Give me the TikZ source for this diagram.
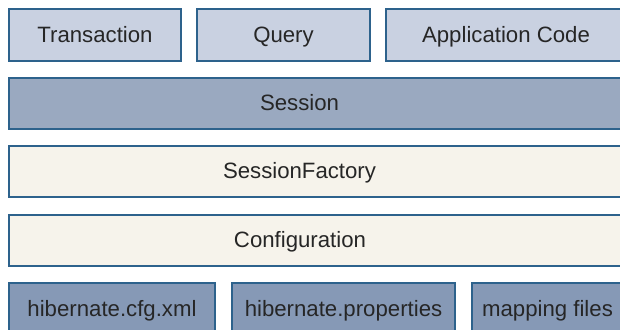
\documentclass[tikz,border=0pt]{standalone}
\usepackage{fontspec}
\setmainfont{Liberation Sans}
\usepackage{tikz}
\usetikzlibrary{
  positioning,
}
\definecolor{boxline}{RGB}{45, 98, 140}
\definecolor{apifill}{RGB}{201, 209, 225}
\definecolor{sessfill}{RGB}{154, 169, 192}
\definecolor{corefill}{RGB}{246, 243, 235}
\definecolor{cfgfill}{RGB}{134, 153, 182}
\tikzstyle{layer} = [
  draw=boxline,
  line width=0.75pt,
  rectangle,
  inner sep=0pt,
  minimum height=26pt,
  text height=7.95pt,
  text depth=0pt,
  font=\fontsize{11.1}{13}\selectfont,
  text=black!85,
]
\tikzstyle{lbl} = [
  inner sep=0pt,
  text height=7.95pt,
  text depth=0pt,
  font=\fontsize{11.1}{13}\selectfont,
  text=black!85,
]

\begin{document}
\begin{tikzpicture}[x=0.5pt, y=-0.5pt]

        \useasboundingbox (0,0) rectangle (620,329);
        \clip (0,0) rectangle (620,329);

        % top row
        \node [layer, fill=apifill, minimum width=86pt] (trans) at (95, 35) {Transaction};
        \node [layer, fill=apifill, minimum width=86.5pt] (query) at (283.5, 35) {Query};
        \node [layer, fill=apifill, minimum width=120pt] (appcode) at (506, 35) {Application Code};

        % full width layers
        \node [layer, fill=sessfill, minimum width=308.5pt, minimum height=25.5pt] (session) at (317.5, 103.5) {};
        \node [lbl] (sessionlbl) at (299.5, 103) {Session};

        \node [layer, fill=corefill, minimum width=308.5pt, minimum height=25.5pt] (factory) at (317.5, 171.5) {};
        \node [lbl] (factorylbl) at (299.5, 171) {SessionFactory};

        \node [layer, fill=corefill, minimum width=308.5pt, minimum height=25.5pt] (config) at (317.5, 240.5) {};
        \node [lbl] (configlbl) at (300, 240) {Configuration};

        % bottom row
        \node [layer, fill=cfgfill, minimum width=103pt] (cfgxml) at (112, 309) {hibernate.cfg.xml};
        \node [layer, fill=cfgfill, minimum width=111.5pt] (props) at (343.5, 309) {hibernate.properties};
        \node [layer, fill=cfgfill, minimum width=75.5pt] (mapping) at (547.5, 309) {mapping files};

      \end{tikzpicture}
\end{document}
